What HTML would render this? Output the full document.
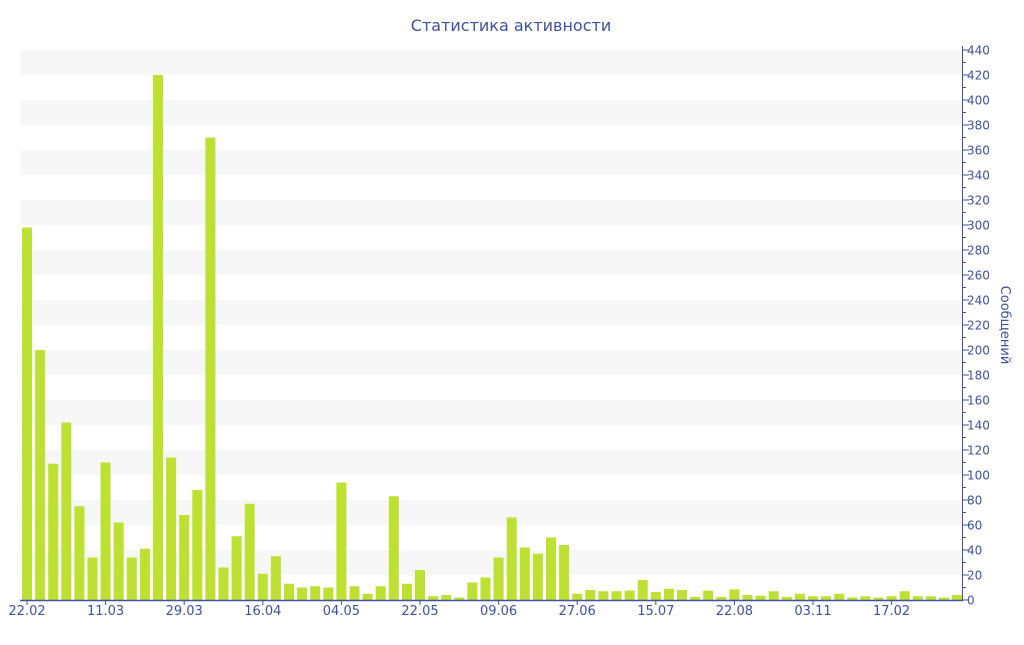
<!DOCTYPE html>
<html><head><meta charset="utf-8"><style>
body{margin:0;background:#fff;}
text{font-family:"DejaVu Sans","Liberation Sans",sans-serif;fill:#3f51a0;}
</style></head><body>
<svg width="1024" height="640" xmlns="http://www.w3.org/2000/svg" id="s">
<text x="511" y="31" font-size="16" text-anchor="middle">Статистика активности</text>
<g id="bands"></g><g id="bars"></g><g id="ax"></g>
<text transform="translate(1001,325) rotate(90)" font-size="13" text-anchor="middle">Сообщений</text>
</svg>
<script>
const v=[298,200,109,142,75,34,110,62,34,41,420,114,68,88,370,26,51,77,21,35,13,10,11,10,94,11,5,11,83,13,24,3,4,2,14,18,34,66,42,37,50,44,5,8,7,7,7.5,16,6.5,9,8,2.5,7.5,2.5,8.5,4,3.5,7,2.5,5,3,3,5,2,3,2,3,7,3,3,2,4];
const ns="http://www.w3.org/2000/svg";
function el(p,t,a,txt){const e=document.createElementNS(ns,t);for(const k in a)e.setAttribute(k,a[k]);if(txt!=null)e.textContent=txt;document.getElementById(p).appendChild(e);}
const Y=x=>600-x*1.25;
for(let b=20;b<440;b+=40)el('bands','rect',{x:20,y:Y(b+20),width:942,height:25,fill:'#f7f7f7'});
v.forEach((d,i)=>{el('bars','rect',{x:22+i*13.1,y:Y(d),width:10,height:d*1.25,fill:'#bde032'});});
el('ax','line',{x1:20,y1:600.5,x2:963,y2:600.5,stroke:'#3f51a0','stroke-width':1.5});
el('ax','line',{x1:962.5,y1:46,x2:962.5,y2:601,stroke:'#3f51a0','stroke-width':1});
for(let t=0;t<=440;t+=10){const y=Y(t);el('ax','line',{x1:962,y1:y,x2:t%20?966:969,y2:y,stroke:'#3f51a0'});
if(t%20==0)el('ax','text',{x:967,y:y+4.5,'font-size':12},t);}
const L=['22.02','11.03','29.03','16.04','04.05','22.05','09.06','27.06','15.07','22.08','03.11','17.02'];
L.forEach((l,i)=>{const x=27+i*6*13.1;el('ax','line',{x1:x,y1:600,x2:x,y2:605,stroke:'#3f51a0'});el('ax','text',{x:x,y:615,'font-size':13,'text-anchor':'middle'},l);});
</script>
</body></html>
